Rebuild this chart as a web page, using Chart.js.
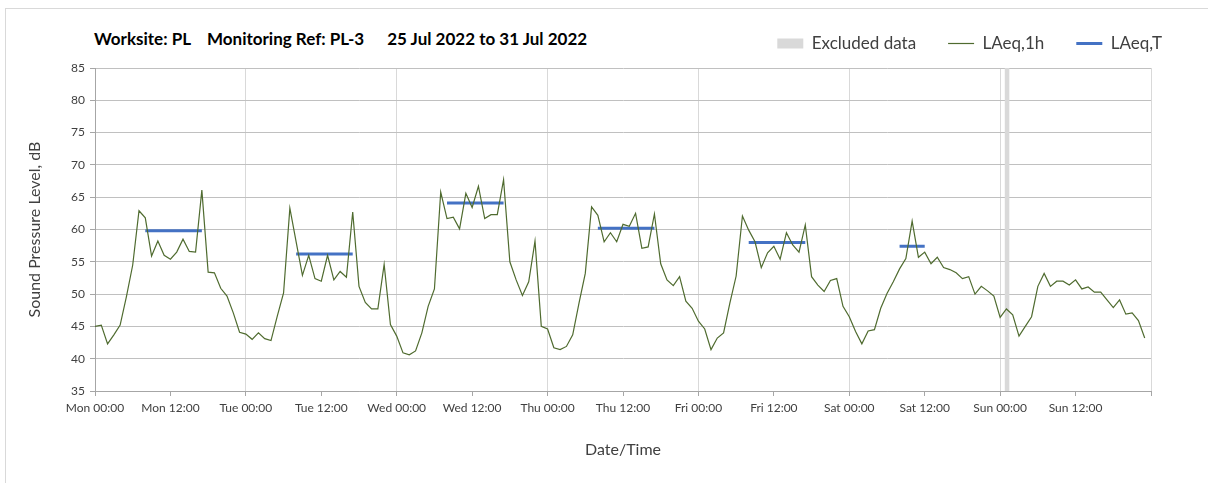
<!DOCTYPE html>
<html>
<head>
<meta charset="utf-8">
<script src="https://cdn.jsdelivr.net/npm/chart.js@4.4.1/dist/chart.umd.min.js"></script>
<style>
  html, body { margin: 0; padding: 0; background: #fff; }
  #wrap { position: relative; width: 1208px; height: 483px; }
  #frame { position: absolute; left: 5px; top: 8px; right: 0; bottom: 0; border-left: 1px solid #d9d9d9; border-top: 1px solid #d9d9d9; }
  #title { position: absolute; left: 94px; top: 29px; font: bold 17px Lato, sans-serif; line-height: 20px; color: #000; white-space: nowrap; }
  #title span { margin-right: 16px; }
  #title span.wide { margin-right: 23px; }
  canvas { position: absolute; left: 0; top: 0; }
</style>
</head>
<body>
<div id="wrap">
  <div id="frame"></div>
  <div id="title"><span>Worksite: PL</span><span class="wide">Monitoring Ref: PL-3</span><span>25 Jul 2022 to 31 Jul 2022</span></div>
  <canvas id="Chart" width="1208" height="483"></canvas>
</div>
<script>
const days = ["Mon", "Tue", "Wed", "Thu", "Fri", "Sat", "Sun"];
const tickTimes = ["00:00", "12:00"];

// LAeq,1h - one value per hour, Monday 00:00 to Sunday 23:00
const mon = [45.0, 45.2, 42.3, 43.7, 45.2, 49.6, 54.5, 62.9, 61.8, 55.9, 58.2, 56.0, 55.4, 56.5, 58.5, 56.6, 56.5, 66.1, 53.4, 53.3, 50.9, 49.7, 47.1, 44.1];
const tue = [43.8, 43.0, 44.0, 43.1, 42.8, 46.6, 50.2, 63.3, 58.1, 52.9, 56.0, 52.4, 52.0, 56.0, 52.2, 53.5, 52.6, 62.7, 51.2, 48.7, 47.7, 47.7, 54.6, 45.3];
const wed = [43.5, 40.9, 40.6, 41.2, 44.0, 48.1, 50.8, 65.8, 61.7, 61.9, 60.1, 65.6, 63.4, 66.7, 61.7, 62.3, 62.3, 67.7, 55.0, 52.2, 49.8, 51.9, 58.2, 45.0];
const thu = [44.6, 41.7, 41.4, 41.9, 43.7, 48.6, 53.2, 63.5, 62.2, 58.1, 59.5, 58.1, 60.8, 60.5, 62.5, 57.1, 57.3, 62.4, 54.7, 52.2, 51.3, 52.7, 48.9, 47.8];
const fri = [45.8, 44.6, 41.4, 43.2, 44.0, 48.6, 52.8, 62.1, 59.9, 58.1, 54.1, 56.4, 57.4, 55.4, 59.5, 57.6, 56.5, 60.7, 52.7, 51.4, 50.4, 52.1, 52.4, 48.1];
const sat = [46.5, 44.2, 42.3, 44.3, 44.5, 47.8, 50.1, 51.9, 53.9, 55.5, 61.3, 55.7, 56.5, 54.7, 55.7, 54.1, 53.8, 53.3, 52.4, 52.7, 50.0, 51.2, 50.5, 49.7];
const sun = [46.4, 47.7, 46.8, 43.5, 45.0, 46.5, 51.2, 53.2, 51.2, 52.0, 52.0, 51.4, 52.2, 50.8, 51.1, 50.3, 50.3, 49.1, 47.9, 49.1, 46.9, 47.1, 45.9, 43.2];

// LAeq,T - working period levels (hours from Mon 00:00)
const periodStart = [8, 32, 56, 80, 104, 128];
const periodEnd = [17, 41, 65, 89, 113, 132];
const periodLevel = [59.8, 56.2, 64.1, 60.2, 58.0, 57.4];

// excluded data (hours from Mon 00:00)
const excludedStart = [144.7];
const excludedEnd = [145.5];

const yMin = 35;
const yMax = 85;

const hourly = [].concat(mon, tue, wed, thu, fri, sat, sun);
const hourlyPoints = hourly.map((v, i) => ({ x: i, y: v }));

let periodPoints = [];
periodStart.forEach((s, i) => {
  periodPoints.push({ x: s, y: periodLevel[i] });
  periodPoints.push({ x: periodEnd[i], y: periodLevel[i] });
  periodPoints.push({ x: periodEnd[i], y: null });
});

let excludedPoints = [];
excludedStart.forEach((s, i) => {
  excludedPoints.push({ x: s, y: yMax });
  excludedPoints.push({ x: excludedEnd[i], y: yMax });
  excludedPoints.push({ x: excludedEnd[i], y: null });
});

// push the chart area down a little below the legend
const legendGap = {
  id: "legendGap",
  beforeInit(chart) {
    const fit = chart.legend.fit;
    chart.legend.fit = function () {
      fit.bind(chart.legend)();
      this.height += 6;
    };
  },
};

const ctx = document.getElementById("Chart");

new Chart(ctx, {
  type: "line",
  data: {
    datasets: [
      {
        label: "Excluded data",
        data: excludedPoints,
        backgroundColor: "#d9d9d9",
        borderColor: "#d9d9d9",
        borderWidth: 0,
        pointRadius: 0,
        pointStyle: "rect",
        fill: "start",
      },
      {
        label: "LAeq,1h",
        data: hourlyPoints,
        borderColor: "#4f6b2f",
        backgroundColor: "#4f6b2f",
        borderWidth: 1.2,
        pointRadius: 0,
        pointStyle: "line",
        fill: false,
      },
      {
        label: "LAeq,T",
        data: periodPoints,
        borderColor: "#4472c4",
        backgroundColor: "#4472c4",
        borderWidth: 3,
        pointRadius: 0,
        pointStyle: "line",
        fill: false,
      },
    ],
  },
  options: {
    responsive: false,
    animation: false,
    layout: { padding: { top: 3, right: 14, bottom: 0, left: 0 } },
    plugins: {
      filler: { drawTime: "beforeDatasetsDraw" },
      tooltip: { enabled: false },
      legend: {
        position: "top",
        align: "end",
        labels: {
          usePointStyle: true,
          pointStyleWidth: 26,
          boxHeight: 10,
          padding: 32,
          color: "#404040",
          font: { family: "Lato", size: 17 },
        },
      },
    },
    scales: {
      x: {
        type: "linear",
        min: 0,
        max: 168,
        afterFit(scale) {
          scale.height = 92;
        },
        ticks: {
          stepSize: 12,
          autoSkip: false,
          maxRotation: 0,
          padding: 5,
          color: "#404040",
          font: { family: "Lato", size: 12 },
          callback: (v) => (v >= 168 ? "" : days[Math.floor(v / 24)] + " " + tickTimes[(v % 24) / 12]),
        },
        grid: {
          color: (c) => (c.tick && c.tick.value % 24 === 0 ? "#d9d9d9" : "rgba(0,0,0,0)"),
          tickColor: "#a6a6a6",
          tickLength: 5,
        },
        border: { color: "#a6a6a6" },
        title: {
          display: true,
          text: "Date/Time",
          color: "#404040",
          font: { family: "Lato", size: 16 },
          padding: { top: 0, bottom: 24 },
        },
      },
      y: {
        min: yMin,
        max: yMax,
        afterFit(scale) {
          scale.width = 95;
        },
        ticks: {
          stepSize: 5,
          padding: 5,
          color: "#404040",
          font: { family: "Lato", size: 12 },
        },
        grid: {
          color: "#c0c0c0",
          tickColor: "#a6a6a6",
          tickLength: 5,
        },
        border: { color: "#a6a6a6" },
        title: {
          display: true,
          text: "Sound Pressure Level, dB",
          color: "#404040",
          font: { family: "Lato", size: 16 },
          padding: { top: 25, bottom: 0 },
        },
      },
      yRight: {
        type: "linear",
        position: "right",
        display: true,
        afterFit(scale) {
          scale.width = 43;
        },
        ticks: { display: false },
        grid: { display: false },
        border: { display: false },
      },
    },
  },
  plugins: [legendGap],
});
</script>
</body>
</html>
